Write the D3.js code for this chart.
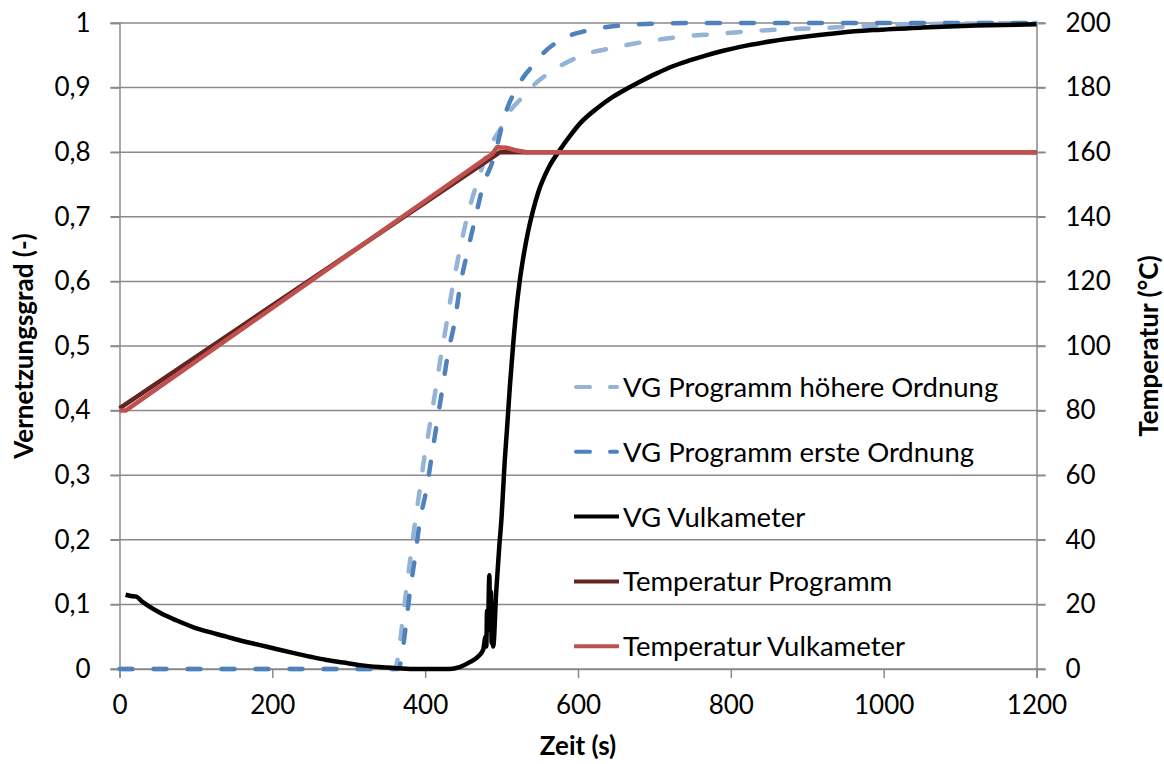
<!DOCTYPE html>
<html>
<head>
<meta charset="utf-8">
<script src="https://cdn.jsdelivr.net/npm/d3@7/dist/d3.min.js"></script>
<style>
  html, body { margin: 0; padding: 0; background: #fff; }
  svg { display: block; }
  text { font-family: Lato, "Liberation Sans", sans-serif; fill: #000; }
</style>
</head>
<body>
<svg id="chart" width="1164" height="764"></svg>
<script>
// Vernetzungsgrad (VG, 0..1) over Zeit (s) and temperature (°C) on the right axis.
const timeTicks = [0, 200, 400, 600, 800, 1000, 1200];
const vgTicks = [0, 0.1, 0.2, 0.3, 0.4, 0.5, 0.6, 0.7, 0.8, 0.9, 1];
const tempTicks = [0, 20, 40, 60, 80, 100, 120, 140, 160, 180, 200];

// VG Programm höhere Ordnung: [t (s), VG]
const vgHigherOrder = [
  [0, 0], [360, 0], [364, 0.015], [369, 0.06], [374, 0.11], [380, 0.165], [386, 0.22],
  [392, 0.27], [398, 0.32], [405, 0.37], [412, 0.42], [420, 0.48], [428, 0.535],
  [435, 0.585], [443, 0.635], [452, 0.685], [462, 0.73], [470, 0.76], [480, 0.795],
  [490, 0.82], [498, 0.835], [504, 0.848], [512, 0.865], [524, 0.881], [537, 0.898],
  [550, 0.912], [565, 0.925], [579, 0.935], [596, 0.945], [613, 0.953], [635, 0.959],
  [655, 0.964], [698, 0.973], [737, 0.979], [781, 0.983], [834, 0.988], [890, 0.991],
  [934, 0.993], [986, 0.996], [1030, 0.998], [1100, 0.999], [1200, 1]
];

// VG Programm erste Ordnung
const vgFirstOrder = [
  [0, 0], [365, 0], [369, 0.017], [374.5, 0.065], [380, 0.119], [386.7, 0.173],
  [393, 0.228], [402, 0.28], [408.5, 0.329], [415, 0.378], [422, 0.43], [430, 0.489],
  [439, 0.54], [445.6, 0.592], [455, 0.644], [465, 0.695], [476, 0.749], [488, 0.785],
  [495, 0.814], [502, 0.848], [508, 0.87], [517.5, 0.894], [529, 0.917], [541.5, 0.935],
  [556, 0.955], [572, 0.97], [590, 0.981], [611, 0.988], [633, 0.993], [655, 0.996],
  [700, 0.999], [760, 1], [1200, 1]
];

// VG Vulkameter (measured)
const vgVulkameter = [
  [8, 0.115], [15, 0.113], [22, 0.112], [30, 0.104], [53, 0.087], [75, 0.075],
  [96, 0.065], [118, 0.057], [140, 0.05], [162, 0.043], [184, 0.037], [205, 0.031],
  [227, 0.025], [250, 0.019], [271, 0.014], [293, 0.01], [315, 0.006], [340, 0.003],
  [365, 0.001], [380, 0], [432, 0], [445, 0.003], [459, 0.011], [470, 0.02],
  [476, 0.03], [479, 0.05], [480, 0.035], [481, 0.09], [482, 0.06], [484, 0.145],
  [485, 0.07], [486, 0.12], [487, 0.04], [488, 0.1], [489, 0.035], [493, 0.12],
  [497, 0.19], [500, 0.235], [504, 0.32], [507, 0.37], [511, 0.44], [515, 0.5],
  [519, 0.553], [524, 0.603], [530, 0.648], [535, 0.679], [541, 0.709], [548, 0.738],
  [562, 0.777], [576, 0.803], [590, 0.826], [603, 0.845], [625, 0.868], [646, 0.886],
  [665, 0.899], [681, 0.909], [703, 0.922], [724, 0.933], [746, 0.942], [768, 0.95],
  [790, 0.957], [812, 0.963], [855, 0.972], [899, 0.979], [943, 0.985], [986, 0.989],
  [1051, 0.993], [1120, 0.996], [1200, 0.998]
];

// Temperatur Programm: [t (s), °C]
const tempProgramm = [[0, 80.7], [498, 160], [1200, 160]];

// Temperatur Vulkameter
const tempVulkameter = [
  [0, 80], [8, 80], [488, 159.5], [494, 161.5], [506, 161.4], [520, 160.5],
  [533, 160], [1200, 160]
];

const legendLabels = [
  "VG Programm höhere Ordnung",
  "VG Programm erste Ordnung",
  "VG Vulkameter",
  "Temperatur Programm",
  "Temperatur Vulkameter"
];

const svg = d3.select("#chart");
const plot = { left: 119.5, right: 1036.5, top: 23, bottom: 669 };

const x = d3.scaleLinear().domain([0, 1200]).range([plot.left, plot.right]);
const yVG = d3.scaleLinear().domain([0, 1]).range([plot.bottom, plot.top]);
const yT = d3.scaleLinear().domain([0, 200]).range([plot.bottom, plot.top]);

const gridColor = "#8a8a8a";
const fmtComma = d => d3.format("")(d).replace(".", ",");

// horizontal gridlines (incl. tick stubs on both sides)
svg.append("g")
  .selectAll("line")
  .data(vgTicks)
  .join("line")
  .attr("x1", plot.left - 9).attr("x2", plot.right + 9)
  .attr("y1", d => yVG(d)).attr("y2", d => yVG(d))
  .attr("stroke", gridColor).attr("stroke-width", 1.5);

// left axis
const leftAxis = svg.append("g")
  .attr("transform", `translate(${plot.left},0)`)
  .call(d3.axisLeft(yVG).tickValues(vgTicks).tickFormat(fmtComma).tickSize(9).tickPadding(20));
// right axis
const rightAxis = svg.append("g")
  .attr("transform", `translate(${plot.right},0)`)
  .call(d3.axisRight(yT).tickValues(tempTicks).tickFormat(d3.format("d")).tickSize(9).tickPadding(20));
// bottom axis
const bottomAxis = svg.append("g")
  .attr("transform", `translate(0,${plot.bottom})`)
  .call(d3.axisBottom(x).tickValues(timeTicks).tickFormat(d3.format("d")).tickSize(9).tickPadding(13));

[leftAxis, rightAxis, bottomAxis].forEach(g => {
  g.select(".domain").attr("stroke", gridColor).attr("stroke-width", 1.5);
  g.selectAll(".tick line").attr("stroke", gridColor).attr("stroke-width", 1.5);
  g.selectAll(".tick text").attr("font-size", 26).attr("font-family", "Lato, sans-serif").attr("fill", "#000");
});
bottomAxis.selectAll(".tick text").attr("dy", "0.9em");

// series
const lineVG = d3.line().x(d => x(d[0])).y(d => yVG(d[1])).curve(d3.curveMonotoneX);
const lineT = d3.line().x(d => x(d[0])).y(d => yT(d[1]));

const series = [
  { data: vgHigherOrder, gen: lineVG, color: "#95B3D7", width: 4.5, dash: "13,21" },
  { data: vgFirstOrder, gen: lineVG, color: "#4F81BD", width: 4.5, dash: "13,21" },
  { data: vgVulkameter, gen: lineVG, color: "#000000", width: 4.5, dash: null },
  { data: tempProgramm, gen: lineT, color: "#632523", width: 4.5, dash: null },
  { data: tempVulkameter, gen: lineT, color: "#C0504D", width: 4.5, dash: null }
];

svg.append("g")
  .selectAll("path")
  .data(series)
  .join("path")
  .attr("d", s => s.gen(s.data))
  .attr("fill", "none")
  .attr("stroke", s => s.color)
  .attr("stroke-width", s => s.width)
  .attr("stroke-linecap", s => s.dash ? "round" : "butt")
  .attr("stroke-linejoin", "round")
  .attr("stroke-dasharray", s => s.dash);

// legend
const legend = svg.append("g").attr("transform", "translate(574,387)");
const rows = legend.selectAll("g")
  .data(series.map((s, i) => ({ ...s, label: legendLabels[i] })))
  .join("g")
  .attr("transform", (d, i) => `translate(0,${i * 64.8})`);
rows.append("line")
  .attr("x1", d => d.dash ? 2 : 0).attr("x2", d => d.dash ? 43 : 45)
  .attr("stroke", d => d.color).attr("stroke-width", 4)
  .attr("stroke-linecap", d => d.dash ? "round" : "butt")
  .attr("stroke-dasharray", d => d.dash ? "14,20" : null);
rows.append("text")
  .attr("x", 49).attr("dy", "0.36em")
  .attr("font-size", 27.5)
  .text(d => d.label);

// axis titles
svg.append("text")
  .attr("x", x(600)).attr("y", 755)
  .attr("text-anchor", "middle").attr("font-weight", "bold").attr("font-size", 26)
  .text("Zeit (s)");
svg.append("text")
  .attr("transform", `translate(33,${yVG(0.5)}) rotate(-90)`)
  .attr("text-anchor", "middle").attr("font-weight", "bold").attr("font-size", 26)
  .text("Vernetzungsgrad (-)");
svg.append("text")
  .attr("transform", `translate(1158,${yVG(0.5)}) rotate(-90)`)
  .attr("text-anchor", "middle").attr("font-weight", "bold").attr("font-size", 26)
  .text("Temperatur (°C)");
</script>
</body>
</html>
